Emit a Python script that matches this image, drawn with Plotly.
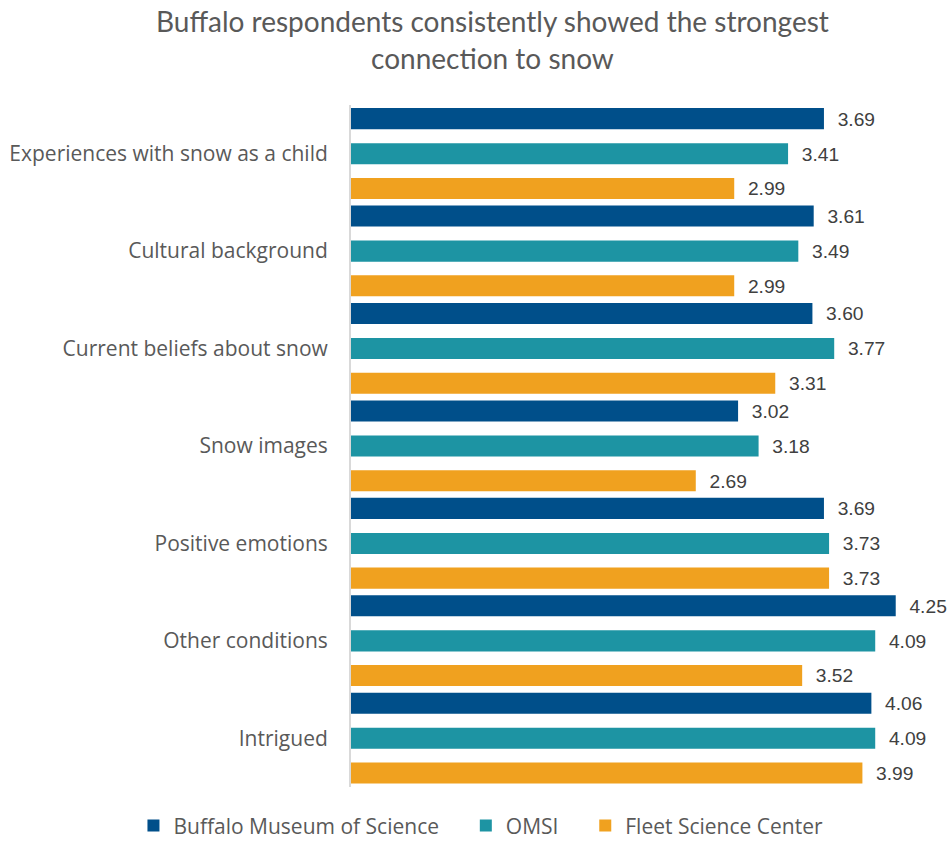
import plotly.graph_objects as go

categories = ["Experiences with snow as a child", "Cultural background", "Current beliefs about snow",
              "Snow images", "Positive emotions", "Other conditions", "Intrigued"]
series_names = ["Buffalo Museum of Science", "OMSI", "Fleet Science Center"]
buffalo = [3.69, 3.61, 3.60, 3.02, 3.69, 4.25, 4.06]
omsi = [3.41, 3.49, 3.77, 3.18, 3.73, 4.09, 4.09]
fleet = [2.99, 2.99, 3.31, 2.69, 3.73, 3.52, 3.99]
colors = ["#004F8A", "#1D94A3", "#F0A11F"]

values = [buffalo, omsi, fleet]
bar_w = 0.216
offsets = [-0.36 - bar_w / 2, -bar_w / 2, 0.356 - bar_w / 2]
legend_pad = ["\u00a0" * 4, "\u00a0" * 4, ""]

fig = go.Figure()
for name, vals, col, off, pad in zip(series_names, values, colors, offsets, legend_pad):
    fig.add_trace(go.Bar(
        y=categories, x=vals, name=name + pad, orientation="h",
        marker=dict(color=col, line=dict(width=0)),
        width=bar_w, offset=off,
        texttemplate="\u00a0\u00a0%{x:.2f}", textposition="outside",
        textfont=dict(family="Liberation Sans", size=21, color="#404040"),
        cliponaxis=False,
    ))

fig.update_layout(
    width=947, height=847,
    margin=dict(l=351, r=0, t=105, b=60),
    paper_bgcolor="white", plot_bgcolor="white",
    barmode="group",
    title=dict(text="Buffalo respondents consistently showed the strongest<br>connection to snow",
               x=0.52, xanchor="center", y=0.962, yanchor="top",
               font=dict(family="Lato", size=28, color="#595959")),
    xaxis=dict(range=[0, 4.65], showgrid=False, showticklabels=False, zeroline=False,
               showline=False, ticks=""),
    yaxis=dict(autorange="reversed", showgrid=False, ticks="", showline=True,
               linecolor="#D9D9D9", linewidth=2,
               tickfont=dict(family="Open Sans", size=21, color="#595959"), ticklabelstandoff=17),
    legend=dict(orientation="h", x=-0.365, xanchor="left",
                y=-0.027, yanchor="top",
                font=dict(family="Open Sans", size=21, color="#595959"), traceorder="normal",
                itemwidth=30),
    showlegend=True,
)

fig.write_html("out.html")
